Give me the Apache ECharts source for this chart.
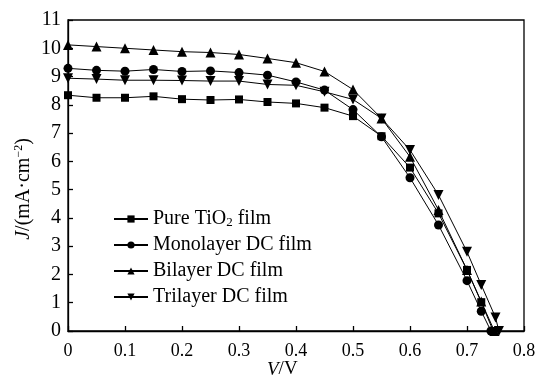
<!DOCTYPE html>
<html>
<head>
<meta charset="utf-8">
<script src="https://cdn.jsdelivr.net/npm/echarts@6/dist/echarts.min.js"></script>
<style>
  html, body { margin: 0; padding: 0; background: #fff; }
  #chart { width: 542px; height: 389px; }
</style>
</head>
<body>
<div id="chart"></div>
<script>
// J–V curves of cells with different down-conversion (DC) layers
const voltage = [0, 0.05, 0.1, 0.15, 0.2, 0.25, 0.3, 0.35, 0.4, 0.45, 0.5, 0.55, 0.6, 0.65, 0.7, 0.725];

const pureJ      = [8.34, 8.25, 8.25, 8.30, 8.20, 8.17, 8.19, 8.10, 8.05, 7.90, 7.60, 6.89, 5.78, 4.16, 2.16, 1.02];
const monoJ      = [9.29, 9.22, 9.19, 9.25, 9.18, 9.20, 9.14, 9.05, 8.81, 8.52, 7.83, 6.87, 5.42, 3.75, 1.78, 0.70];
const biJ        = [10.12, 10.06, 10.00, 9.94, 9.88, 9.85, 9.78, 9.64, 9.49, 9.18, 8.54, 7.52, 6.16, 4.28, 2.16, 1.04];
const triJ       = [8.94, 8.91, 8.87, 8.87, 8.86, 8.84, 8.84, 8.72, 8.69, 8.46, 8.19, 7.52, 6.40, 4.81, 2.80, 1.63];

// points near open circuit
const pureTailV = [0.746], pureTailJ = [0];
const monoTailV = [0.742], monoTailJ = [0];
const biTailV   = [0.748], biTailJ   = [0];
const triTailV  = [0.75, 0.756], triTailJ = [0.48, 0];

const seriesNames = ['Pure TiO2 film', 'Monolayer DC film', 'Bilayer DC film', 'Trilayer DC film'];
const xTicks = { min: 0, max: 0.8, interval: 0.1 };
const yTicks = { min: 0, max: 11, interval: 1 };

function pairs(vs, js, tv, tj) {
  const out = vs.map((v, i) => [v, js[i]]);
  tv.forEach((v, i) => out.push([v, tj[i]]));
  return out;
}

const FONT = '"Liberation Serif", "Times New Roman", serif';

function mk(name, data, symbol, size, rotate) {
  return {
    name: name,
    type: 'line',
    data: data,
    symbol: symbol,
    symbolSize: size,
    symbolRotate: rotate || 0,
    showAllSymbol: true,
    lineStyle: { color: '#000', width: 1 },
    itemStyle: { color: '#000' },
    emphasis: { disabled: true },
    animation: false
  };
}

const chart = echarts.init(document.getElementById('chart'), null, { renderer: 'canvas' });
chart.setOption({
  backgroundColor: '#fff',
  animation: false,
  grid: {
    left: 68, right: 18, top: 20, bottom: 58,
    show: true, borderColor: '#000', borderWidth: 1.3, backgroundColor: 'transparent'
  },
  xAxis: {
    type: 'value',
    min: xTicks.min, max: xTicks.max, interval: xTicks.interval,
    axisLine: { lineStyle: { color: '#000', width: 1.3 } },
    axisTick: { inside: true, length: 5, lineStyle: { color: '#000', width: 1.3 } },
    splitLine: { show: false },
    axisLabel: { color: '#000', fontFamily: FONT, fontSize: 18, margin: 11 }
  },
  yAxis: {
    type: 'value',
    min: yTicks.min, max: yTicks.max, interval: yTicks.interval,
    axisLine: { show: true, lineStyle: { color: '#000', width: 1.3 } },
    axisTick: { show: true, inside: true, length: 5, lineStyle: { color: '#000', width: 1.3 } },
    splitLine: { show: false },
    axisLabel: { color: '#000', fontFamily: FONT, fontSize: 20, margin: 7 }
  },
  legend: {
    orient: 'vertical',
    left: 108, top: 204,
    itemWidth: 34, itemHeight: 9, itemGap: 6,
    data: seriesNames,
    formatter: function (n) {
      return n === 'Pure TiO2 film' ? 'Pure TiO{sub|2} film' : n;
    },
    textStyle: {
      color: '#000', fontFamily: FONT, fontSize: 20, lineHeight: 20,
      rich: { sub: { fontFamily: FONT, fontSize: 13, verticalAlign: 'bottom', padding: [8, 0, 0, 0] } }
    }
  },
  graphic: [
    {
      type: 'text',
      left: 267, top: 360,
      style: {
        text: '{i|V}/V',
        fill: '#000', font: '19px ' + FONT,
        rich: { i: { fontStyle: 'italic', fontFamily: FONT, fontSize: 19 } }
      }
    },
    {
      type: 'text',
      x: 13, y: 189,
      rotation: Math.PI / 2,
      style: {
        text: '{i|J}/(mA·cm{sup|−2})',
        fill: '#000', font: '20px ' + FONT,
        align: 'center', verticalAlign: 'top',
        rich: {
          i: { fontStyle: 'italic', fontFamily: FONT, fontSize: 20 },
          sup: { fontFamily: FONT, fontSize: 12, verticalAlign: 'top', padding: [0, 0, 9, 0] }
        }
      }
    }
  ],
  series: [
    mk(seriesNames[0], pairs(voltage, pureJ, pureTailV, pureTailJ), 'rect', 8),
    mk(seriesNames[1], pairs(voltage, monoJ, monoTailV, monoTailJ), 'circle', 9),
    mk(seriesNames[2], pairs(voltage, biJ, biTailV, biTailJ), 'triangle', 10),
    mk(seriesNames[3], pairs(voltage, triJ, triTailV, triTailJ), 'triangle', 10, 180)
  ]
});
</script>
</body>
</html>
